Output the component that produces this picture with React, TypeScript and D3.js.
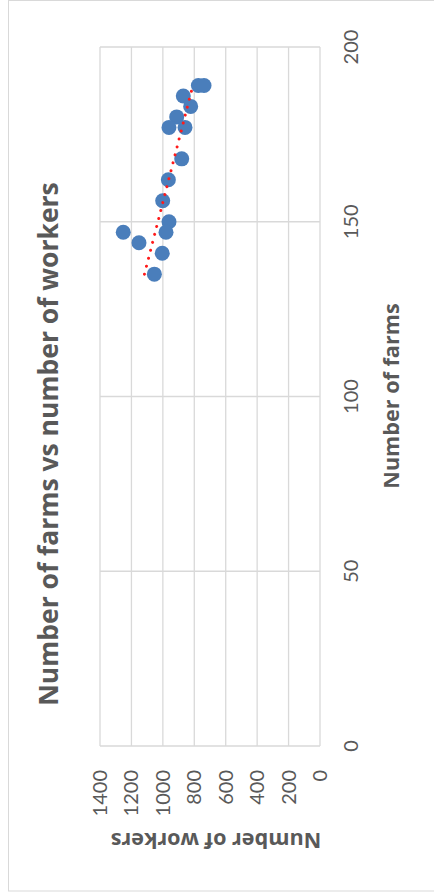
import React from "react";
import * as d3 from "d3";

const farms = [189, 189, 186, 183, 180, 177, 177, 168, 162, 156, 150, 147, 147, 144, 141, 135];
const workers = [774, 738, 870, 823, 912, 961, 859, 880, 965, 1001, 961, 980, 1252, 1152, 1004, 1054];
const farmTicks = [0, 50, 100, 150, 200];
const workerTicks = [0, 200, 400, 600, 800, 1000, 1200, 1400];
const title = "Number of farms vs number of workers";
const farmsTitle = "Number of farms";
const workersTitle = "Number of workers";

const W = 434;
const H = 893;
const FONT = "Lato, 'Open Sans', sans-serif";
const BOLD = "'Open Sans', Lato, sans-serif";
const GRAY = "#595959";

export default function App() {
  const x = d3.scaleLinear().domain([0, 1400]).range([320, 100]);
  const y = d3.scaleLinear().domain([0, 200]).range([746, 47]);

  // linear regression workers = a + b*farms
  const mx = d3.mean(farms) as number;
  const my = d3.mean(workers) as number;
  let sxy = 0;
  let sxx = 0;
  farms.forEach((f, i) => {
    sxy += (f - mx) * (workers[i] - my);
    sxx += (f - mx) * (f - mx);
  });
  const b = sxy / sxx;
  const a = my - b * mx;
  const f0 = d3.min(farms) as number;
  const f1 = d3.max(farms) as number;
  const trend = d3.line<number>()
    .x((f) => x(a + b * f))
    .y((f) => y(f))([f0, f1]);

  return (
    <svg
      width={W}
      height={H}
      style={{ position: "absolute", left: 0, top: 0, background: "#fff" }}
    >
      <rect x={8.5} y={0.5} width={W + 10} height={890.5} fill="#fff" stroke="#d9d9d9" strokeWidth={1} />
      {workerTicks.map((t) => (
        <line key={"gx" + t} x1={x(t)} x2={x(t)} y1={y(0)} y2={y(200)} stroke="#d9d9d9" strokeWidth={1.3} />
      ))}
      {farmTicks.map((t) => (
        <line key={"gy" + t} x1={x(1400)} x2={x(0)} y1={y(t)} y2={y(t)} stroke="#d9d9d9" strokeWidth={1.3} />
      ))}
      {farms.map((f, i) => (
        <circle key={"p" + i} cx={x(workers[i])} cy={y(f)} r={7.5} fill="#4a7ebb" />
      ))}
      <path d={trend || ""} fill="none" stroke="#ff1a1a" strokeWidth={3} strokeLinecap="round" strokeDasharray="0.01 8.2" />
      {farmTicks.map((t) => (
        <text
          key={"fl" + t}
          transform={`translate(358,${y(t)}) rotate(-90)`}
          textAnchor="middle"
          fontFamily={FONT}
          fontSize={20}
          fill={GRAY}
        >
          {t}
        </text>
      ))}
      {workerTicks.map((t) => (
        <text
          key={"wl" + t}
          transform={`translate(${x(t) + 7},770) rotate(-90)`}
          textAnchor="end"
          fontFamily={FONT}
          fontSize={20}
          fill={GRAY}
        >
          {t}
        </text>
      ))}
      <text
        transform={`translate(399,396) rotate(-90)`}
        textAnchor="middle"
        fontFamily={BOLD}
        fontSize={21.6}
        fontWeight="bold"
        fill={GRAY}
      >
        {farmsTitle}
      </text>
      <text
        transform={`translate(216,833) rotate(180)`}
        textAnchor="middle"
        fontFamily={BOLD}
        fontSize={21.6}
        fontWeight="bold"
        fill={GRAY}
      >
        {workersTitle}
      </text>
      <text
        transform={`translate(58,444) rotate(-90)`}
        textAnchor="middle"
        fontFamily={BOLD}
        fontSize={26.5}
        fontWeight="bold"
        fill={GRAY}
      >
        {title}
      </text>
    </svg>
  );
}
